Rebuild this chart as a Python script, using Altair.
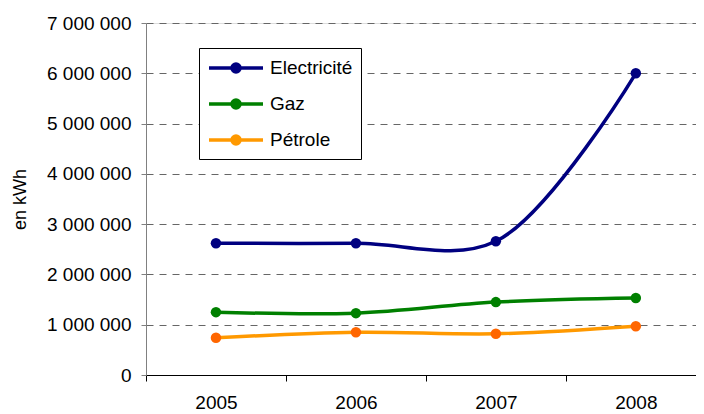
import altair as alt
import pandas as pd

years = [2005, 2006, 2007, 2008]
series = ["Electricité", "Gaz", "Pétrole"]
electricite = [2620000, 2620000, 2660000, 6000000]
gaz = [1250000, 1230000, 1450000, 1530000]
petrole = [740000, 850000, 820000, 970000]
line_colors = ["#000080", "#008000", "#FF9900"]
marker_colors = ["#000080", "#008000", "#FF6600"]
y_ticks = [0, 1000000, 2000000, 3000000, 4000000, 5000000, 6000000, 7000000]
x_ticks = [2004.5, 2005.5, 2006.5, 2007.5]

rows = []
for s, vals in zip(series, [electricite, gaz, petrole]):
    for yr, v in zip(years, vals):
        rows.append({"Annee": yr, "Serie": s, "Valeur": v})
df = pd.DataFrame(rows)

FONT = "Arial, Liberation Sans, sans-serif"


def circ(cx, r):
    return (f"M{cx + r},0A{r},{r} 0 1,1 {cx - r},0"
            f"A{r},{r} 0 1,1 {cx + r},0Z")


legend_path = "M-1,0H4.4" + circ(1.7, 0.1) + circ(1.7, 0.25) + circ(1.7, 0.4)

x_enc = alt.X(
    "Annee:Q",
    scale=alt.Scale(domain=[2004.5, 2008.43], nice=False, zero=False),
    axis=alt.Axis(
        values=x_ticks,
        labelExpr="format(datum.value + 0.5, 'd')",
        labelOffset=70,
        labelAlign="center",
        labelFlush=False,
        labelOverlap=False,
        grid=False,
        domainColor="#000000",
        tickColor="#000000",
        tickSize=6,
        labelPadding=12,
        labelFontSize=19,
        labelFont=FONT,
        labelColor="#000000",
        title=None,
    ),
)

y_enc = alt.Y(
    "Valeur:Q",
    scale=alt.Scale(domain=[0, 7000000], nice=False),
    axis=alt.Axis(
        values=y_ticks,
        labelExpr="replace(format(datum.value, ','), regexp(',', 'g'), ' ')",
        tickSize=5,
        labelPadding=10,
        domainColor="#808080",
        tickColor="#808080",
        grid=True,
        gridDash=[7, 6],
        gridColor="#666666",
        labelFontSize=19,
        labelFont=FONT,
        labelColor="#000000",
        title="en kWh",
        titleFont=FONT,
        titleFontSize=18,
        titleFontWeight="normal",
        titleColor="#000000",
        titlePadding=17,
    ),
)

lines = alt.Chart(df).mark_line(
    interpolate="catmull-rom", strokeWidth=3.5
).encode(
    x=x_enc,
    y=y_enc,
    color=alt.Color(
        "Serie:N",
        scale=alt.Scale(domain=series, range=line_colors),
        legend=alt.Legend(
            title=None,
            orient="none",
            legendX=53,
            legendY=25,
            symbolType=legend_path,
            symbolSize=400,
            symbolStrokeWidth=3.5,
            labelOffset=39,
            labelFont=FONT,
            labelFontSize=19,
            labelColor="#000000",
            rowPadding=13,
            padding=8,
            fillColor="#ffffff",
            strokeColor="#000000",
        ),
    ),
    order=alt.Order("Annee:Q"),
)

points = alt.Chart(df).mark_point(filled=True, size=110, opacity=1).encode(
    x=x_enc,
    y=y_enc,
    fill=alt.Fill(
        "Serie:N",
        scale=alt.Scale(domain=series, range=marker_colors),
        legend=None,
    ),
)

chart = (
    alt.layer(lines, points)
    .properties(
        width=550,
        height=352,
        padding={"left": 138, "top": 15, "right": 0, "bottom": 39},
        autosize=alt.AutoSizeParams(type="none"),
    )
    .configure_view(stroke=None)
    .configure(font=FONT)
)

chart.save("out.html", embed_options={"renderer": "svg", "actions": False})
